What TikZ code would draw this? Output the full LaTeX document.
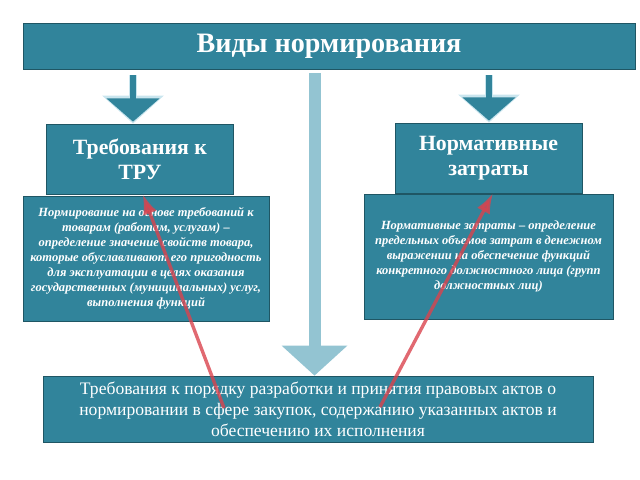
\documentclass[tikz,border=0pt]{standalone}
\usepackage{fontspec}
\setmainfont{Liberation Serif}
\usetikzlibrary{arrows.meta}
\definecolor{sea}{HTML}{31849B}
\definecolor{seaedge}{HTML}{1F5664}
\definecolor{pale}{HTML}{93C4D2}
\definecolor{halo}{HTML}{C9E5EE}
\definecolor{redline}{HTML}{D9434E}

\begin{document}
\begin{tikzpicture}[x=0.025cm, y=-0.025cm,
    box/.style={draw=seaedge, line width=0.5pt, fill=sea, text=white, align=center, inner sep=0pt},
    headbox/.style={box, minimum width=4.67cm, minimum height=1.75cm, font=\bfseries\fontsize{15.5}{18}\selectfont},
    descbox/.style={box, minimum width=6.2cm, minimum height=3.125cm, font=\bfseries\itshape\fontsize{8.9}{10.6}\selectfont},
    haloarrow/.style={draw=halo, line width=0.2cm, -{Triangle[width=1.5cm, length=0.7cm]}},
    downarrow/.style={draw=sea, line width=0.13cm, -{Triangle[width=1.3cm, length=0.58cm]}},
    redarrow/.style={draw=redline, opacity=0.8, line width=2.4pt, -{Latex[width=0.36cm, length=0.5cm]}}]
  \useasboundingbox (0,0) rectangle (640,480);
%  \draw [help lines, opacity=0.5] (0,0) grid (640,480);

  \node [box, minimum width=15.3cm, minimum height=1.15cm, font=\bfseries\fontsize{20}{24}\selectfont] (title) at (329,46) {Виды нормирования};

  \node [headbox] (treb) at (140,159) {Требования к\\ТРУ};
  \node [descbox, minimum width=6.15cm] (trebdesc) at (146,258.5) {
    Нормирование на основе требований к\\
    товарам (работам, услугам) –\\
    определение значение свойств товара,\\
    которые обуславливают его пригодность\\
    для эксплуатации в целях оказания\\
    государственных (муниципальных) услуг,\\
    выполнения функций};

  \node [headbox] (norm) at (488.5,158) {Нормативные\\затраты};
  \node [descbox, minimum width=6.225cm] (normdesc) at (488.5,256.5) {
    Нормативные затраты – определение\\
    предельных объемов затрат в денежном\\
    выражении на обеспечение функций\\
    конкретного должностного лица (групп\\
    должностных лиц)};

  \node [box, minimum width=13.75cm, minimum height=1.65cm, font=\fontsize{12.5}{15}\selectfont] (order) at (318,409) {
    Требования к порядку разработки и принятия правовых актов о\\
    нормировании в сфере закупок, содержанию указанных актов и\\
    обеспечению их исполнения};

  % arrows out of the title
  \coordinate (ltop) at (133,75);
  \coordinate (rtop) at (489,75);
  \coordinate (mtop) at (314.5,73);
  \draw [haloarrow, shorten >=-0.05cm] (ltop) -- ([yshift=0.05cm]ltop |- treb.north);
  \draw [downarrow] (ltop) -- ([yshift=0.05cm]ltop |- treb.north);
  \draw [haloarrow, shorten >=-0.05cm] (rtop) -- ([yshift=0.05cm]rtop |- norm.north);
  \draw [downarrow] (rtop) -- ([yshift=0.05cm]rtop |- norm.north);
  \draw [draw=pale, line width=0.3cm, -{Triangle[width=1.6cm, length=0.75cm]}] (mtop) -- (mtop |- order.north);

  \coordinate (lfoot) at (224,408);
  \coordinate (rfoot) at (380,407);
  \draw [redarrow] (lfoot) -- ([xshift=0.07cm]treb.south);
  \draw [redarrow] (rfoot) -- ([xshift=0.11cm]norm.south);
\end{tikzpicture}
\end{document}
